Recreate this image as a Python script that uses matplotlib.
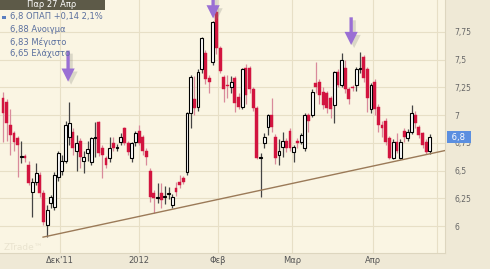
import matplotlib
matplotlib.use("Agg")
import matplotlib.pyplot as plt
import numpy as np
from matplotlib.transforms import ScaledTranslation

# ---- data ----
opens = [7.15, 7.12, 6.91, 6.84, 6.79, 6.62, 6.63, 6.55, 6.31, 6.40,
         6.46, 6.30, 6.01, 6.21, 6.17, 6.44, 6.50, 6.59, 6.80, 6.85,
         6.68, 6.77, 6.59, 6.66, 6.58, 6.79, 6.94, 6.70, 6.61, 6.61,
         6.75, 6.70, 6.76, 6.88, 6.75, 6.61, 6.76, 6.86, 6.80, 6.68,
         6.50, 6.30, 6.25, 6.30, 6.26, 6.29, 6.19, 6.34, 6.40, 6.43,
         6.49, 7.02, 7.14, 7.07, 7.41, 7.56, 7.33, 7.48, 7.93, 7.60,
         7.34, 7.27, 7.25, 7.33, 7.16, 7.07, 7.42, 7.42, 7.23, 7.06,
         6.61, 6.75, 6.89, 7.00, 6.80, 6.64, 6.71, 6.77, 6.86, 6.67,
         6.77, 6.76, 6.70, 7.00, 7.00, 7.29, 7.30, 7.21, 7.20, 7.15,
         7.09, 7.39, 7.27, 7.42, 7.23, 7.25, 7.27, 7.41, 7.52, 7.41,
         7.05, 7.30, 7.07, 6.91, 6.95, 6.79, 6.61, 6.76, 6.61, 6.86,
         6.79, 6.85, 7.00, 6.89, 6.84, 6.76, 6.68]
highs = [7.21, 7.14, 7.05, 6.86, 6.81, 6.77, 6.65, 6.59, 6.43, 6.57,
         6.49, 6.32, 6.19, 6.28, 6.49, 6.68, 6.64, 6.95, 7.12, 6.88,
         6.82, 6.79, 6.68, 6.77, 6.80, 6.94, 6.95, 6.73, 6.63, 6.80,
         6.80, 6.74, 6.84, 6.89, 6.77, 6.76, 6.86, 6.91, 6.82, 6.70,
         6.52, 6.32, 6.39, 6.39, 6.36, 6.35, 6.29, 6.40, 6.46, 6.45,
         7.03, 7.36, 7.35, 7.41, 7.70, 7.59, 7.36, 7.85, 7.99, 7.62,
         7.36, 7.36, 7.35, 7.35, 7.20, 7.42, 7.46, 7.44, 7.25, 7.08,
         6.66, 6.84, 7.01, 7.15, 6.83, 6.78, 6.85, 6.79, 6.88, 6.73,
         6.79, 6.84, 7.02, 7.02, 7.23, 7.48, 7.32, 7.25, 7.22, 7.17,
         7.40, 7.41, 7.56, 7.50, 7.25, 7.27, 7.43, 7.57, 7.54, 7.43,
         7.29, 7.32, 7.10, 6.95, 6.97, 6.81, 6.78, 6.84, 6.78, 6.88,
         6.87, 7.09, 7.04, 6.91, 6.85, 6.78, 6.83]
lows = [6.76, 6.77, 6.64, 6.68, 6.44, 6.57, 6.58, 6.37, 6.08, 6.37,
        6.26, 6.01, 5.90, 6.16, 6.14, 6.41, 6.46, 6.57, 6.73, 6.64,
        6.50, 6.52, 6.48, 6.59, 6.55, 6.62, 6.63, 6.43, 6.52, 6.58,
        6.68, 6.68, 6.73, 6.73, 6.64, 6.58, 6.72, 6.73, 6.64, 6.55,
        6.22, 6.12, 6.21, 6.16, 6.20, 6.24, 6.16, 6.27, 6.34, 6.38,
        6.46, 6.88, 7.00, 7.04, 7.38, 7.28, 7.20, 7.45, 7.55, 7.38,
        7.12, 7.15, 7.20, 7.03, 7.05, 7.05, 7.10, 7.20, 7.04, 6.60,
        6.26, 6.70, 6.82, 6.85, 6.56, 6.55, 6.62, 6.67, 6.68, 6.58,
        6.70, 6.74, 6.68, 6.85, 6.98, 7.20, 7.10, 7.05, 7.02, 6.97,
        6.93, 7.25, 7.25, 7.20, 7.10, 7.22, 7.22, 7.38, 7.30, 7.03,
        7.02, 7.00, 6.85, 6.80, 6.73, 6.60, 6.60, 6.66, 6.60, 6.76,
        6.77, 6.83, 6.88, 6.79, 6.70, 6.65, 6.65]
closes = [7.02, 6.93, 6.82, 6.76, 6.73, 6.63, 6.61, 6.39, 6.40, 6.48,
          6.30, 6.04, 6.14, 6.26, 6.46, 6.66, 6.59, 6.91, 6.93, 6.70,
          6.75, 6.62, 6.62, 6.69, 6.79, 6.80, 6.66, 6.64, 6.55, 6.70,
          6.70, 6.71, 6.80, 6.75, 6.67, 6.75, 6.84, 6.75, 6.68, 6.62,
          6.26, 6.25, 6.26, 6.23, 6.27, 6.30, 6.26, 6.31, 6.37, 6.40,
          7.02, 7.34, 7.06, 7.39, 7.69, 7.32, 7.30, 7.84, 7.60, 7.40,
          7.23, 7.26, 7.30, 7.11, 7.07, 7.41, 7.18, 7.23, 7.06, 6.61,
          6.62, 6.80, 7.00, 6.89, 6.61, 6.68, 6.77, 6.70, 6.70, 6.71,
          6.75, 6.82, 7.00, 6.95, 7.21, 7.25, 7.18, 7.09, 7.06, 7.05,
          7.39, 7.27, 7.50, 7.23, 7.14, 7.24, 7.41, 7.42, 7.33, 7.15,
          7.27, 7.05, 6.91, 6.88, 6.76, 6.61, 6.76, 6.68, 6.76, 6.80,
          6.85, 7.02, 6.93, 6.82, 6.73, 6.67, 6.80]

month_pos = [15.5, 37.0, 58.4, 78.5, 100.5, 117.9]
month_labels = ["Δεκ'11", "2012", "Φεβ", "Μαρ", "Απρ", ""]
y_ticks = [6.0, 6.25, 6.5, 6.75, 7.0, 7.25, 7.5, 7.75]
y_labels = ["6", "6,25", "6,5", "6,75", "7", "7,25", "7,5", "7,75"]

trend_x = [10.9, 120.1]
trend_y = [5.90, 6.68]

arrow_x = [17.7, 57.1, 94.6]
arrow_tail = [7.58, 8.10, 7.88]
arrow_tip = [7.30, 7.87, 7.63]

header = "Παρ 27 Απρ"
legend_lines = ["6,8 ΟΠΑΠ +0,14 2,1%", "6,88 Ανοιγμα", "6,83 Μέγιστο", "6,65 Ελάχιστο"]
last_label = "6,8"

# ---- styling ----
W, H = 490, 269
OUTER = "#efe9d6"
PLOT_BG = "#faf5e3"
GRID = "#e7dfc6"
RED = "#d2143f"
RED_WICK = "#d98a9b"
ARROW = "#9a6fd4"

fig = plt.figure(figsize=(W / 100, H / 100), dpi=100)
fig.patch.set_facecolor(OUTER)
ax = fig.add_axes([0, (H - 253) / H, 445 / W, 253 / H])
ax.set_facecolor(PLOT_BG)

x = np.arange(len(opens))
o = np.array(opens); h = np.array(highs); l = np.array(lows); c = np.array(closes)
up = c >= o

# grid
for p in month_pos:
    ax.axvline(p, color=GRID, lw=0.8, zorder=0)
for t in y_ticks:
    ax.axhline(t, color=GRID, lw=0.8, zorder=0)

# wicks
ax.vlines(x[~up], l[~up], h[~up], color=RED_WICK, lw=0.9, zorder=2)
ax.vlines(x[up], l[up], h[up], color="#444444", lw=0.9, zorder=2)
# bodies
bw = 0.78
body_lo = np.minimum(o, c)
body_h = np.maximum(np.abs(c - o), 0.006)
ax.bar(x[~up], body_h[~up], bottom=body_lo[~up], width=bw, color=RED,
       edgecolor=RED, lw=0.3, zorder=3)
ax.bar(x[up], body_h[up], bottom=body_lo[up], width=bw, color="white",
       edgecolor="black", lw=0.8, zorder=3)

# trend line
ax.plot(trend_x, trend_y, color="#9b7a58", lw=1.0, zorder=4)

# arrows with soft shadow
shadow_tr = ax.transData + ScaledTranslation(3 / 100, -3 / 100, fig.dpi_scale_trans)
style = "simple,head_length=0.95,head_width=0.95,tail_width=0.24"
for ax_, t0, t1 in zip(arrow_x, arrow_tail, arrow_tip):
    ax.annotate("", xy=(ax_, t1), xytext=(ax_, t0), xycoords=shadow_tr, textcoords=shadow_tr,
                arrowprops=dict(arrowstyle=style, color="#8a8a80", alpha=0.28, lw=0,
                                mutation_scale=10, shrinkA=0, shrinkB=0), zorder=5,
                annotation_clip=False)
    ax.annotate("", xy=(ax_, t1), xytext=(ax_, t0),
                arrowprops=dict(arrowstyle=style, color=ARROW, lw=0,
                                mutation_scale=10, shrinkA=0, shrinkB=0), zorder=6,
                annotation_clip=False)

ax.set_xlim(-0.8, 120.1)
ax.set_ylim(5.757, 8.036)

ax.set_xticks(month_pos)
ax.set_xticklabels(month_labels, fontsize=6, color="#555555")
ax.set_yticks(y_ticks)
ax.set_yticklabels(y_labels, fontsize=5.5, color="#666666")
ax.yaxis.tick_right()
ax.tick_params(axis="both", length=0)
ax.tick_params(axis="y", pad=7)
ax.tick_params(axis="x", pad=2.5)
for s in ax.spines.values():
    s.set_color("#ddd6bf")
    s.set_linewidth(0.8)
ax.spines["top"].set_visible(False)
ax.spines["left"].set_visible(False)

# last price box
ax.text(1.008, closes[-1], " " + last_label + "  ", transform=ax.get_yaxis_transform(),
        fontsize=6, color="white", va="center", ha="left",
        bbox=dict(boxstyle="square,pad=0.15", fc="#5b8fe0", ec="none"),
        zorder=10, clip_on=False)

# header & legend
fig.patches.append(plt.Rectangle((0, 1 - 9.5 / H), 105 / W, 9.5 / H,
                                 transform=fig.transFigure, fc="#5d5a48", ec="none"))
fig.text(52 / W, 1 - 4.8 / H, header, fontsize=6, color="white", ha="center", va="center")
fig.patches.append(plt.Rectangle((2 / W, 1 - 19 / H), 3.5 / W, 3.5 / H,
                                 transform=fig.transFigure, fc="#5b7fc0", ec="none"))
leg_y = [17, 29.5, 42, 54]
for txt, yy in zip(legend_lines, leg_y):
    fig.text(10 / W, 1 - yy / H, txt, fontsize=6, color="#5a6f9e", ha="left", va="center")

fig.text(4 / W, 1 - 248 / H, "ZTrade™", fontsize=6.5, color="#e9e3cf", ha="left", va="center")

fig.savefig("out.png", dpi=100, facecolor=OUTER)
